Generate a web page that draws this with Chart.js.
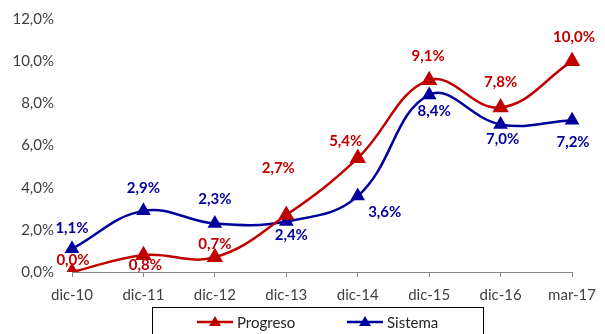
<!DOCTYPE html>
<html><head><meta charset="utf-8">
<script src="https://cdn.jsdelivr.net/npm/chart.js@4/dist/chart.umd.min.js"></script>
<style>html,body{margin:0;padding:0;background:#fff}#wrap{width:605px;height:334px}</style>
</head><body><div id="wrap"><canvas id="c" width="605" height="334"></canvas></div>
<script>
const categories = ['dic-10','dic-11','dic-12','dic-13','dic-14','dic-15','dic-16','mar-17'];
const progreso = [0.0, 0.8, 0.7, 2.7, 5.4, 9.1, 7.8, 10.0];
const sistema = [1.1, 2.9, 2.3, 2.4, 3.6, 8.4, 7.0, 7.2];
const yTicks = [0, 2, 4, 6, 8, 10, 12];

const RED = '#C00000', BLUE = '#00009C';
const FONT = 'Lato';
// label offsets in px relative to point (dx, dy)
const progresoLabelOffsets = [[1,-12],[2,10],[0,-13],[-8,-47],[-12,-17],[-1,-24],[0,-25],[2,-24]];
const sistemaLabelOffsets = [[0,-21],[0,-23],[0,-24],[5,14],[27,16],[5,16],[2,15],[1,22]];

const fmt = v => v.toFixed(1).replace('.', ',') + '%';

const labelPlugin = {
  id: 'labels',
  afterDatasetsDraw(chart) {
    const ctx = chart.ctx;
    ctx.save();
    ctx.font = 'bold 15px ' + FONT;
    ctx.textAlign = 'center';
    ctx.textBaseline = 'middle';
    chart.data.datasets.forEach((ds, i) => {
      const meta = chart.getDatasetMeta(i);
      ctx.fillStyle = ds.borderColor;
      meta.data.forEach((pt, j) => {
        const off = ds.labelOffsets[j];
        ctx.fillText(fmt(ds.data[j]), pt.x + off[0], pt.y + off[1]);
      });
    });
    ctx.restore();
  }
};

const legendPlugin = {
  id: 'boxLegend',
  afterDraw(chart) {
    const ctx = chart.ctx;
    ctx.save();
    ctx.strokeStyle = '#000';
    ctx.lineWidth = 1;
    ctx.strokeRect(152.5, 307.5, 331, 40);
    ctx.font = '15px ' + FONT;
    ctx.textBaseline = 'middle';
    ctx.textAlign = 'left';
    const items = [[197, 'Progreso', RED], [347, 'Sistema', BLUE]];
    items.forEach(([x, txt, col]) => {
      const y = 322;
      ctx.strokeStyle = col; ctx.lineWidth = 2.5;
      ctx.beginPath(); ctx.moveTo(x, y); ctx.lineTo(x + 36, y); ctx.stroke();
      ctx.fillStyle = col;
      ctx.beginPath(); ctx.moveTo(x + 18, y - 6); ctx.lineTo(x + 24, y + 4); ctx.lineTo(x + 12, y + 4); ctx.closePath(); ctx.fill();
      ctx.fillStyle = '#262626';
      ctx.fillText(txt, x + 40, y + 1);
    });
    ctx.restore();
  }
};

new Chart(document.getElementById('c'), {
  type: 'line',
  data: {
    labels: categories,
    datasets: [
      { label: 'Progreso', data: progreso, borderColor: RED, backgroundColor: RED, borderWidth: 2.5,
        tension: 0.4, pointStyle: 'triangle', pointRadius: 7, pointHoverRadius: 7, labelOffsets: progresoLabelOffsets, order: 1 },
      { label: 'Sistema', data: sistema, borderColor: BLUE, backgroundColor: BLUE, borderWidth: 2.5,
        tension: 0.4, pointStyle: 'triangle', pointRadius: 6, pointHoverRadius: 6, labelOffsets: sistemaLabelOffsets, order: 2 }
    ]
  },
  options: {
    responsive: false,
    animation: false,
    layout: { padding: { top: 14, right: 30, left: 0, bottom: 0 } },
    plugins: { legend: { display: false }, tooltip: { enabled: false } },
    scales: {
      x: {
        offset: false,
        grid: { display: true, drawOnChartArea: false, tickLength: 5, color: '#868686' },
        border: { display: true, color: '#868686', width: 1 },
        ticks: { color: '#404040', font: { family: FONT, size: 15 }, padding: 9, maxRotation: 0, autoSkip: false },
        afterFit(s) { s.height = 62; }
      },
      y: {
        min: 0, max: 12,
        afterBuildTicks(s) { s.ticks = yTicks.map(v => ({ value: v })); },
        grid: { display: false },
        border: { display: false },
        ticks: { color: '#404040', font: { family: FONT, size: 15 }, padding: 10, callback: v => fmt(v) },
        afterFit(s) { s.width = 72; }
      }
    }
  },
  plugins: [labelPlugin, legendPlugin]
});
</script></body></html>
